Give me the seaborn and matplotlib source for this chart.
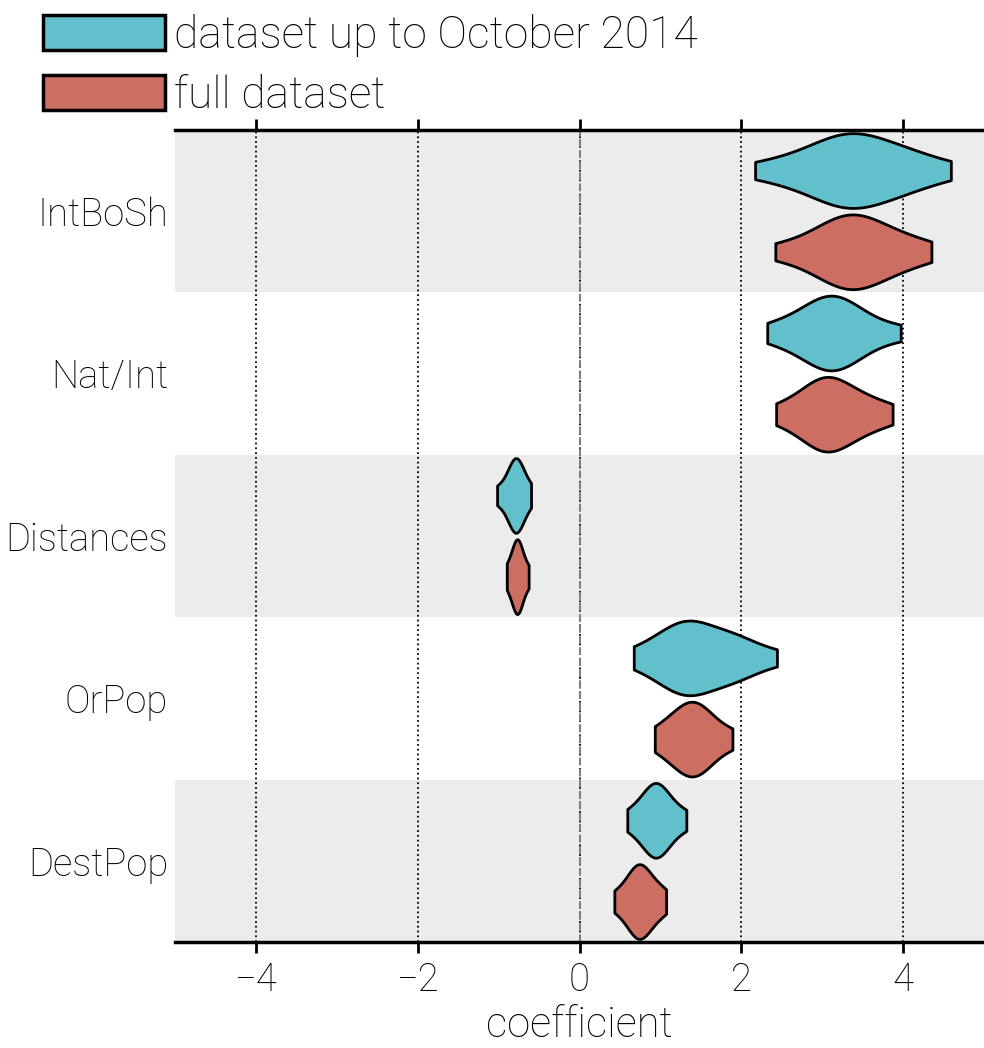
import pandas as pd
import matplotlib.pyplot as plt
import seaborn as sns

variables = ["IntBoSh", "Nat/Int", "Distances", "OrPop", "DestPop"]
datasets = ["dataset up to October 2014", "full dataset"]
colors = ["#62c0cc", "#cc6e62"]

# coefficient samples (one list per violin)
intbosh_oct = [2.17, 2.55, 2.8, 2.95, 3.1, 3.2, 3.28, 3.35, 3.42, 3.5, 3.62, 3.75, 3.9, 4.05, 4.2, 4.59]
intbosh_full = [2.42, 2.8, 2.98, 3.1, 3.2, 3.3, 3.36, 3.42, 3.5, 3.6, 3.72, 3.88, 4.05, 4.35]
natint_oct = [2.32, 2.62, 2.8, 2.92, 3.02, 3.08, 3.14, 3.2, 3.3, 3.42, 3.58, 3.97]
natint_full = [2.43, 2.7, 2.85, 2.95, 3.0, 3.06, 3.12, 3.2, 3.3, 3.45, 3.6, 3.87]
distances_oct = [-1.02, -0.9, -0.85, -0.81, -0.79, -0.77, -0.74, -0.7, -0.6]
distances_full = [-0.9, -0.83, -0.8, -0.78, -0.76, -0.74, -0.71, -0.63]
orpop_oct = [0.67, 0.95, 1.1, 1.2, 1.27, 1.32, 1.38, 1.45, 1.55, 1.7, 1.88, 1.95, 2.02, 2.44]
orpop_full = [0.93, 1.12, 1.22, 1.3, 1.36, 1.42, 1.48, 1.55, 1.65, 1.89]
destpop_oct = [0.59, 0.75, 0.83, 0.89, 0.93, 0.96, 1.0, 1.06, 1.15, 1.32]
destpop_full = [0.43, 0.58, 0.65, 0.7, 0.73, 0.76, 0.8, 0.86, 0.95, 1.07]

samples = {
    ("IntBoSh", datasets[0]): intbosh_oct,
    ("IntBoSh", datasets[1]): intbosh_full,
    ("Nat/Int", datasets[0]): natint_oct,
    ("Nat/Int", datasets[1]): natint_full,
    ("Distances", datasets[0]): distances_oct,
    ("Distances", datasets[1]): distances_full,
    ("OrPop", datasets[0]): orpop_oct,
    ("OrPop", datasets[1]): orpop_full,
    ("DestPop", datasets[0]): destpop_oct,
    ("DestPop", datasets[1]): destpop_full,
}

rows = []
for (var, ds), vals in samples.items():
    for v in vals:
        rows.append({"variable": var, "dataset": ds, "coefficient": v})
df = pd.DataFrame(rows)

sns.set_style("white")
plt.rcParams["font.family"] = ["Roboto", "DejaVu Sans"]
plt.rcParams["font.weight"] = "light"
plt.rcParams["text.color"] = "black"
plt.rcParams["xtick.color"] = "black"
plt.rcParams["xtick.labelcolor"] = "black"
plt.rcParams["ytick.labelcolor"] = "black"
plt.rcParams["axes.labelcolor"] = "black"

fig = plt.figure(figsize=(9.84, 10.48), dpi=100)
ax = fig.add_axes([0.178, 0.101, 0.822, 0.775])

# alternating grey bands
for i in range(0, len(variables), 2):
    ax.axhspan(i - 0.5, i + 0.5, color="#ececec", zorder=0, lw=0)

sns.violinplot(
    data=df, x="coefficient", y="variable", hue="dataset",
    order=variables, hue_order=datasets, palette=colors,
    orient="h", cut=0, inner=None, density_norm="width",
    width=1.0, gap=0.08, linewidth=2, linecolor="black",
    saturation=1, ax=ax, zorder=3,
)

ax.axvline(0, color="gray", ls="--", lw=1.5, zorder=2)
for xv in [-4, -2, 0, 2, 4]:
    ax.axvline(xv, color="black", ls=":", lw=1.3, zorder=1)

ax.set_xlim(-5, 5)
ax.set_ylim(4.5, -0.5)
ax.set_xticks([-4, -2, 0, 2, 4])
ax.tick_params(axis="x", which="both", top=True, bottom=True, direction="out",
               length=8, width=2, labelsize=27.5, pad=6)
ax.tick_params(axis="y", length=0, labelsize=27.5, pad=5)
ax.set_ylabel("")
ax.set_xlabel("coefficient", fontsize=30, fontweight="light", labelpad=4)

for side in ["left", "right"]:
    ax.spines[side].set_visible(False)
for side in ["top", "bottom"]:
    ax.spines[side].set_linewidth(2.5)
    ax.spines[side].set_color("black")

handles, labels = ax.get_legend_handles_labels()
ax.legend_.remove()
for h in handles:
    h.set_edgecolor("black")
    h.set_linewidth(2.5)
fig.legend(handles, labels, loc="upper left", bbox_to_anchor=(0.003, 1.025),
           fontsize=32, frameon=False, handlelength=2.75, handleheight=0.82,
           handletextpad=0.2, labelspacing=0.4)

plt.savefig("out.png", dpi=100)
